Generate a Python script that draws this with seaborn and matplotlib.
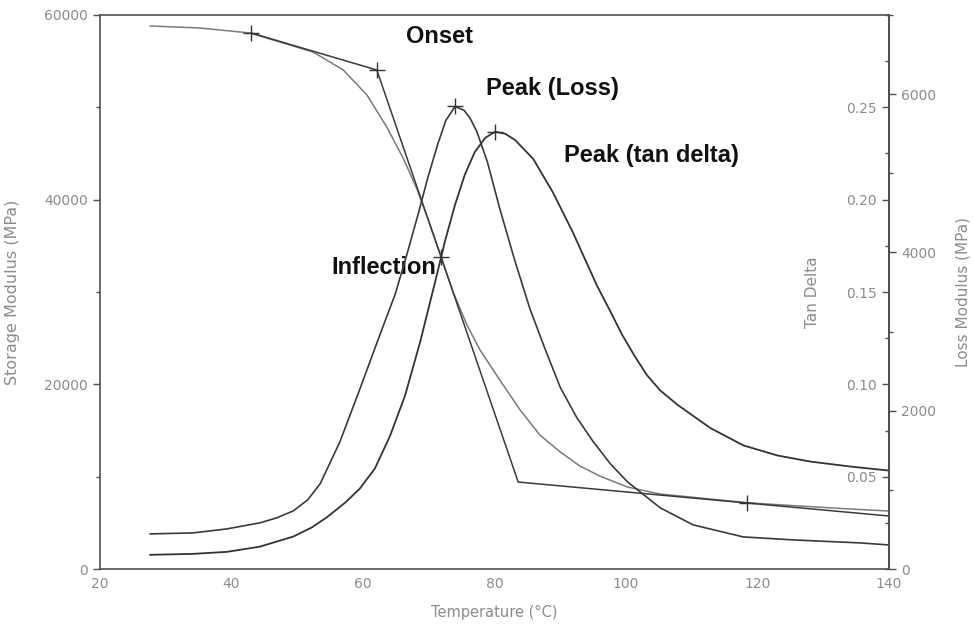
import matplotlib
matplotlib.use("Agg")
import matplotlib.pyplot as plt
from matplotlib.ticker import MultipleLocator, FixedLocator, FormatStrFormatter
import seaborn as sns

# --- data ---
# storage modulus E' (MPa) vs temperature (degC)
storage_t = [27.6, 35.2, 42.8, 52.4, 57.0, 60.6, 63.6, 66.1, 68.2, 70.0, 71.9, 73.7,
             75.8, 77.8, 80.8, 83.9, 86.9, 90.0, 93.0, 96.0, 100.2, 105.2, 111.3,
             118.9, 126.5, 134.1, 140.0]
storage_mpa = [58810, 58590, 58050, 55990, 54040, 51330, 47870, 44510, 41150, 37690,
               33790, 30000, 26430, 23720, 20470, 17220, 14510, 12670, 11150, 10070,
               8880, 8120, 7690, 7150, 6820, 6500, 6280]

# loss modulus E'' (MPa)
loss_t = [27.6, 34.1, 39.3, 44.3, 46.9, 49.4, 51.6, 53.5, 56.5, 59.5, 62.6, 64.9, 66.7,
          68.4, 69.9, 71.4, 72.6, 74.0, 75.4, 76.3, 77.3, 78.9, 80.8, 83.1, 85.4, 87.7,
          90.0, 92.5, 95.0, 97.6, 100.2, 105.2, 110.2, 117.8, 125.4, 135.6, 140.0]
loss_mpa = [444, 456, 507, 583, 647, 735, 875, 1080, 1610, 2270, 2967, 3474, 3982,
            4489, 4958, 5376, 5668, 5845, 5793, 5693, 5529, 5148, 4552, 3893, 3284,
            2777, 2295, 1915, 1610, 1331, 1103, 773, 558, 406, 368, 330, 304]

# tan delta
tan_t = [27.6, 34.1, 39.3, 44.3, 49.4, 52.2, 54.5, 57.3, 59.5, 61.8, 64.1, 66.4, 68.7,
         71.0, 72.5, 74.0, 75.5, 77.0, 78.6, 80.1, 81.6, 83.1, 85.9, 88.9, 91.9, 95.6,
         97.6, 99.4, 101.4, 103.2, 105.2, 107.8, 112.8, 117.8, 123.0, 128.0, 134.1, 140.0]
tan_delta = [0.0077, 0.0082, 0.0093, 0.0121, 0.0176, 0.0225, 0.0280, 0.0360, 0.0435,
             0.0544, 0.0720, 0.0940, 0.1231, 0.1560, 0.1780, 0.1973, 0.2137, 0.2258,
             0.2335, 0.2368, 0.2357, 0.2324, 0.2220, 0.2038, 0.1824, 0.1533, 0.1396,
             0.1269, 0.1148, 0.1049, 0.0967, 0.0890, 0.0764, 0.0670, 0.0615, 0.0582,
             0.0555, 0.0533]

# construction lines for onset / inflection
onset_t = [43.0, 62.1, 83.6, 140.0]
onset_mpa = [58050, 54040, 9420, 5740]

# markers
storage_mark_t = [43.0, 62.1, 71.9, 118.4]
storage_mark_mpa = [58050, 54040, 33790, 7150]
loss_peak = (74.0, 5845)
tan_peak = (80.1, 0.2368)

labels = ["Onset", "Peak (Loss)", "Inflection", "Peak (tan delta)"]

sns.set_style("white")
plt.rcParams["font.family"] = ["DejaVu Sans"]

grey = "#8c8c8c"
spine = "#505050"
ink = "#333333"

fig = plt.figure(figsize=(9.73, 6.24), dpi=100)
ax = fig.add_axes([0.1028, 0.0881, 0.8109, 0.8879])
ax2 = ax.twinx()
ax3 = ax.twinx()

mk = dict(lw=0, marker="+", markersize=11, markeredgewidth=1.0,
          markeredgecolor=ink, color=ink)

sns.lineplot(x=storage_t, y=storage_mpa, ax=ax, color="#7a7a7a", lw=1.1, sort=False)
sns.lineplot(x=onset_t, y=onset_mpa, ax=ax, color="#3a3a3a", lw=1.1, sort=False)
sns.lineplot(x=storage_mark_t, y=storage_mark_mpa, ax=ax, sort=False, **mk)

sns.lineplot(x=loss_t, y=loss_mpa, ax=ax2, color="#3a3a3a", lw=1.2, sort=False)
sns.lineplot(x=[loss_peak[0]], y=[loss_peak[1]], ax=ax2, **mk)

sns.lineplot(x=tan_t, y=tan_delta, ax=ax3, color=ink, lw=1.3, sort=False)
sns.lineplot(x=[tan_peak[0]], y=[tan_peak[1]], ax=ax3, **mk)

# axes ranges and ticks
ax.set_xlim(20, 140)
ax.set_ylim(0, 60000)
ax2.set_ylim(0, 7000)
ax3.set_ylim(0, 0.30)

ax.xaxis.set_major_locator(MultipleLocator(20))
ax.xaxis.set_minor_locator(MultipleLocator(10))
ax.yaxis.set_major_locator(MultipleLocator(20000))
ax.yaxis.set_minor_locator(MultipleLocator(10000))
ax2.yaxis.set_major_locator(MultipleLocator(2000))
ax2.yaxis.set_minor_locator(MultipleLocator(1000))
ax3.yaxis.set_major_locator(FixedLocator([0.05, 0.10, 0.15, 0.20, 0.25]))
ax3.yaxis.set_minor_locator(MultipleLocator(0.025))
ax3.yaxis.set_major_formatter(FormatStrFormatter("%.2f"))

# tan delta scale sits on the inside of the right spine
ax3.yaxis.set_ticks_position("left")
ax3.yaxis.set_label_position("left")
ax3.spines["left"].set_position(("axes", 1.0))
for s in ["top", "bottom", "right"]:
    ax3.spines[s].set_visible(False)
for s in ["top", "bottom", "left"]:
    ax2.spines[s].set_visible(False)

for a in (ax, ax2, ax3):
    for s in a.spines.values():
        s.set_color(spine)
        s.set_linewidth(1.2)
    a.tick_params(which="both", colors=spine, labelcolor=grey, labelsize=10, width=1)
    a.tick_params(which="major", length=5)
    a.tick_params(which="minor", length=3)
ax.tick_params(axis="x", which="both", direction="inout")

ax.set_xlabel("Temperature (°C)", color=grey, fontsize=10.5)
ax.set_ylabel("Storage Modulus (MPa)", color=grey, fontsize=11.5)
ax2.set_ylabel("Loss Modulus (MPa)", color=grey, fontsize=11)
ax3.set_ylabel("Tan Delta", color=grey, fontsize=11)
ax.xaxis.set_label_coords(0.5, -0.064)
ax.yaxis.set_label_coords(-0.101, 0.5)
ax2.yaxis.set_label_coords(1.084, 0.5)
ax3.yaxis.set_label_coords(0.9125, 0.5)

# annotations
label_pos = [(0.4297, 0.962), (0.5735, 0.868), (0.3593, 0.544), (0.6984, 0.747)]
for txt, (px, py) in zip(labels, label_pos):
    ax.text(px, py, txt, transform=ax.transAxes, ha="center", va="center",
            fontsize=17, fontweight="bold", color="#111111",
            family=["Liberation Sans", "DejaVu Sans"], zorder=10)

fig.savefig("out.png", dpi=100)
